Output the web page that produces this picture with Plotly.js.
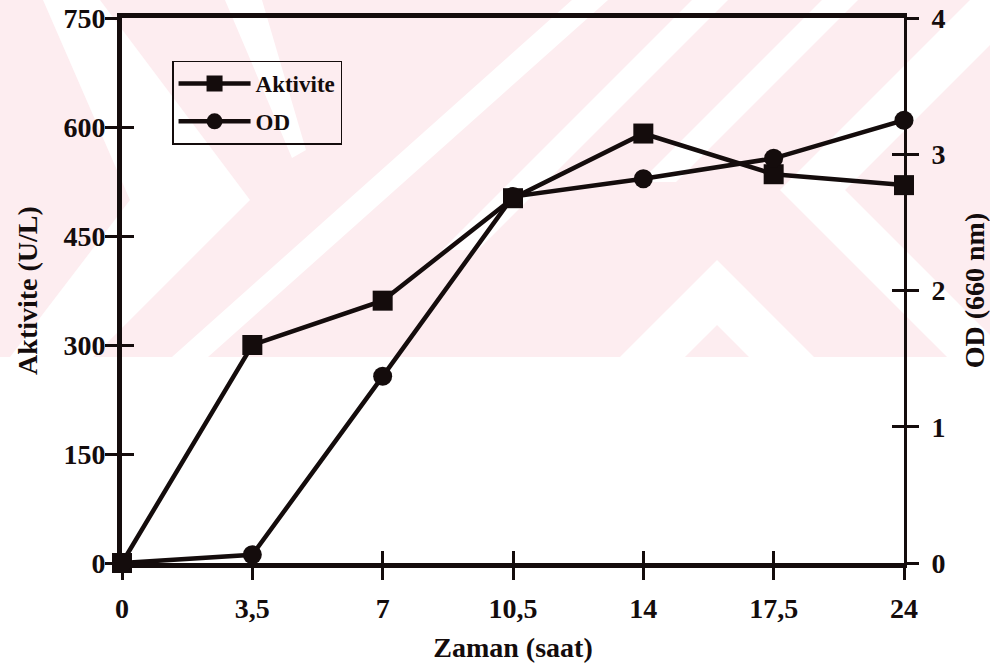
<!DOCTYPE html>
<html><head><meta charset="utf-8">
<script src="https://cdn.plot.ly/plotly-3.0.1.min.js"></script>
<style>html,body{margin:0;padding:0;background:#fff}#chart{width:990px;height:669px}</style>
</head><body><div id="chart"></div>
<script>
// ---- data ----
const categories = ["0", "3,5", "7", "10,5", "14", "17,5", "24"];
const aktivite = [0, 300, 361, 502, 591, 535, 520];
const od = [0, 0.06, 1.37, 2.69, 2.82, 2.97, 3.25];
const leftTicks = [0, 150, 300, 450, 600, 750];
const rightTicks = [0, 1, 2, 3, 4];
const seriesNames = ["Aktivite", "OD"];
const xTitle = "Zaman (saat)";
const yTitle = "Aktivite (U/L)";
const y2Title = "OD (660 nm)";

// ---- style ----
const W = 990, H = 669;
const M = {l: 122, r: 86, t: 18, b: 106};
const INK = "#140c0c";
const FONT = "Liberation Serif";
const tickFont = {family: FONT, size: 28, color: INK, weight: 700};
const titleFont = {family: FONT, size: 28, color: INK, weight: 700};

// faint background watermark of the scanned page (pixel polygons -> paper coords)
const PW = W - M.l - M.r, PH = H - M.t - M.b;
function toPath(pts) {
  return "M" + pts.map(p => ((p[0] - M.l) / PW).toFixed(4) + "," + ((H - M.b - p[1]) / PH).toFixed(4)).join("L") + "Z";
}
const pink = "#fdedf0", wh = "#ffffff";
const wm = [
  {pts: [[0,0],[990,0],[990,357],[0,357]], c: pink},
  {pts: [[43,0],[100,0],[250,200],[93,357],[10,357],[130,200]], c: wh},
  {pts: [[970,0],[1035,0],[845,190],[1012,357],[947,357],[780,190]], c: wh},
  {pts: [[620,357],[717,260],[814,357],[749,357],[717,325],[685,357]], c: wh},
  {pts: [[572,0],[608,0],[208,357],[172,357]], c: wh},
  {pts: [[692,0],[728,0],[478,250],[442,250]], c: wh},
  {pts: [[822,0],[858,0],[676,182],[640,182]], c: wh},
  {pts: [[225,0],[262,0],[306,150],[292,158]], c: wh}
];
const shapes = wm.map(s => ({type: "path", xref: "paper", yref: "paper", path: toPath(s.pts),
  fillcolor: s.c, line: {width: 0}, layer: "below"}));

const idx = categories.map((_, i) => i);

const data = [
  {type: "scatter", mode: "lines+markers", name: seriesNames[1], x: categories, y: od,
   xaxis: "x", yaxis: "y2", cliponaxis: false, legendrank: 2, legendgroup: "b",
   line: {color: INK, width: 4.5}, marker: {symbol: "circle", size: 19, color: INK}},
  {type: "scatter", mode: "lines+markers", name: seriesNames[0], x: categories, y: aktivite,
   xaxis: "x", yaxis: "y", cliponaxis: false, legendrank: 1, legendgroup: "a",
   line: {color: INK, width: 4.5}, marker: {symbol: "square", size: 20, color: INK}},
  {type: "scatter", x: [], y: [], xaxis: "x2", yaxis: "y3", showlegend: false, hoverinfo: "skip"},
  {type: "scatter", x: [], y: [], xaxis: "x", yaxis: "y4", showlegend: false, hoverinfo: "skip"}
];

const common = {showgrid: false, zeroline: false, fixedrange: true};
const layout = {
  width: W, height: H, margin: M,
  paper_bgcolor: "#ffffff", plot_bgcolor: "rgba(0,0,0,0)",
  font: {family: FONT, color: INK},
  showlegend: true,
  legend: {x: 0.064, y: 0.922, xanchor: "left", yanchor: "top",
    bgcolor: "rgba(0,0,0,0)", bordercolor: INK, borderwidth: 1.5,
    traceorder: "grouped", tracegroupgap: 5,
    font: {family: FONT, size: 23, color: INK, weight: 700}, itemwidth: 72},
  xaxis: Object.assign({}, common, {type: "category", categoryarray: categories, range: [0, categories.length - 1],
    showline: true, linewidth: 5, linecolor: INK, mirror: true,
    ticks: "outside", ticklen: 12, tickwidth: 3, tickcolor: INK, tickfont: tickFont, ticklabelstandoff: 4,
    title: {text: xTitle, font: titleFont, standoff: 16}}),
  xaxis2: Object.assign({}, common, {type: "linear", overlaying: "x", anchor: "y", range: [0, categories.length - 1],
    tickvals: idx, ticks: "inside", ticklen: 12, tickwidth: 3, tickcolor: INK, showticklabels: false, showline: false}),
  yaxis: Object.assign({}, common, {range: [0, 750], tickvals: leftTicks, ticktext: leftTicks.map(String),
    showline: true, linewidth: 5, linecolor: INK,
    ticks: "outside", ticklen: 12, tickwidth: 3, tickcolor: INK, tickfont: tickFont, ticklabelstandoff: -6,
    title: {text: yTitle, font: titleFont, standoff: 19}}),
  yaxis2: Object.assign({}, common, {overlaying: "y", side: "right", anchor: "x", range: [0, 4], tickvals: rightTicks,
    showline: true, linewidth: 3, linecolor: INK,
    ticks: "outside", ticklen: 12, tickwidth: 3, tickcolor: INK, tickfont: tickFont, ticklabelstandoff: 7,
    title: {text: y2Title, font: titleFont, standoff: 20}}),
  yaxis3: Object.assign({}, common, {overlaying: "y", anchor: "x", side: "left", range: [0, 750], tickvals: leftTicks,
    ticks: "inside", ticklen: 12, tickwidth: 3, tickcolor: INK, showticklabels: false, showline: false}),
  yaxis4: Object.assign({}, common, {overlaying: "y", anchor: "x", side: "right", range: [0, 4], tickvals: rightTicks,
    ticks: "inside", ticklen: 12, tickwidth: 3, tickcolor: INK, showticklabels: false, showline: false}),
  shapes: shapes
};

Plotly.newPlot("chart", data, layout, {displayModeBar: false, staticPlot: true});
</script>
</body></html>
